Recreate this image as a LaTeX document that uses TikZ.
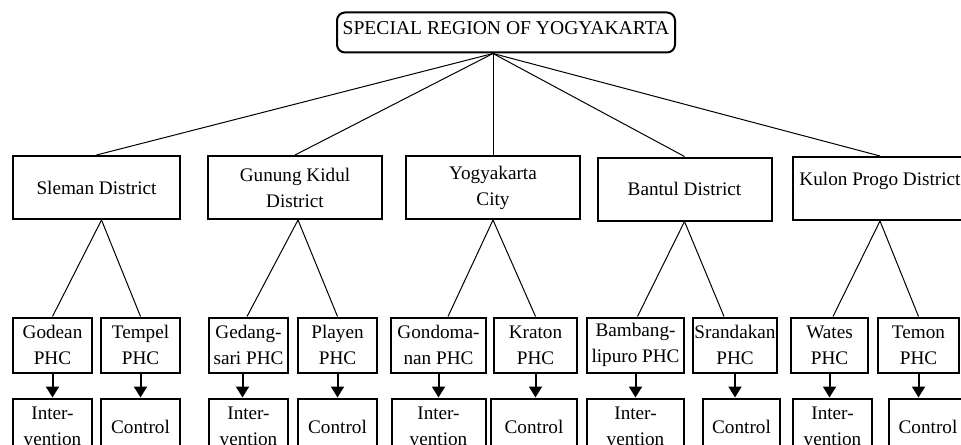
\documentclass[tikz,border=0pt]{standalone}
\usepackage{fontspec}
\setmainfont{Liberation Serif}
\usetikzlibrary{arrows.meta,positioning}

\begin{document}
\begin{tikzpicture}[
  x=0.5pt, y=-0.5pt,
  every node/.style={
    font=\fontsize{9.6}{13}\selectfont,
    align=center,
    inner sep=0pt
  },
  region/.style={
    draw,
    line width=1pt,
    rounded corners=4pt,
    minimum width=169pt,
    inner ysep=2.5pt,
    text height=8.5pt,
    text depth=6.5pt,
    font=\fontsize{9.8}{13}\selectfont
  },
  district/.style={draw,line width=1pt,minimum width=87pt,minimum height=31.5pt},
  clinic/.style={draw,line width=1pt,minimum width=39.5pt,minimum height=27.5pt},
  group/.style={draw,line width=1pt,minimum width=39.5pt,minimum height=28pt,below=12pt of #1},
  link/.style={line width=0.5pt},
  arrow/.style={-{Triangle[length=5.5pt,width=6.5pt]},line width=1pt}
]
  \clip (0,0) rectangle (961,444);

  \node[region] (diy) at (506,32.5) {SPECIAL REGION OF YOGYAKARTA};

  % districts
  \node[district,minimum width=83.5pt] (sleman) at (96.5,187.5) {Sleman District};
  \node[district] (gunungkidul) at (295,187.5) {Gunung Kidul\\District};
  \node[district] (yogya) at (493,187.5) {Yogyakarta\\City};
  \node[district] (bantul) at (684.5,189) {Bantul District};
  \node[district,text depth=10pt] (kulonprogo) at (880,188.5) {Kulon Progo District};
  \coordinate (hub) at (diy.south -| yogya.north);

  % health centres
  \node[clinic] (godean) at (52.5,345) {Godean\\PHC};
  \node[clinic] (tempel) at (140.5,345) {Tempel\\PHC};
  \node[clinic] (gedangsari) at (248.5,345) {Gedang-\\sari PHC};
  \node[clinic] (playen) at (337.5,345) {Playen\\PHC};
  \node[clinic,minimum width=47.5pt] (gondomanan) at (438.5,345) {Gondoma-\\nan PHC};
  \node[clinic,minimum width=41.5pt] (kraton) at (535.5,345) {Kraton\\PHC};
  \node[clinic,minimum width=48.5pt] (bambanglipuro) at (635.5,345) {Bambang-\\lipuro PHC};
  \node[clinic,minimum width=42pt] (srandakan) at (735,345) {Srandakan\\PHC};
  \node[clinic,minimum width=38.5pt] (wates) at (829.5,345) {Wates\\PHC};
  \node[clinic,minimum width=40.5pt] (temon) at (918.5,345) {Temon\\PHC};

  % study groups
  \node[group=godean] (godeanI) {Inter-\\vention};
  \node[group=tempel] (tempelC) {Control};
  \node[group=gedangsari] (gedangsariI) {Inter-\\vention};
  \node[group=playen] (playenC) {Control};
  \node[group=gondomanan,minimum width=47pt] (gondomananI) {Inter-\\vention};
  \node[group=kraton,minimum width=43pt,xshift=-0.75pt] (kratonC) {Control};
  \node[group=bambanglipuro,minimum width=48.5pt] (bambanglipuroI) {Inter-\\vention};
  \node[group=srandakan,minimum width=38.5pt,xshift=3.25pt] (srandakanC) {Control};
  \node[group=wates,xshift=1.5pt] (watesI) {Inter-\\vention};
  \node[group=temon,minimum width=39pt,xshift=4.75pt] (temonC) {Control};

  \draw[link] (hub) -- (sleman.north);
  \draw[link] (hub) -- (gunungkidul.north);
  \draw[link] (hub) -- (yogya.north);
  \draw[link] (hub) -- (bantul.north);
  \draw[link] (hub) -- (kulonprogo.north);

  \draw[link] ([xshift=2.5pt]sleman.south) -- (godean.north);
  \draw[link] ([xshift=2.5pt]sleman.south) -- (tempel.north);
  \draw[link] ([xshift=1.5pt]gunungkidul.south) -- ([xshift=-0.75pt]gedangsari.north);
  \draw[link] ([xshift=1.5pt]gunungkidul.south) -- (playen.north);
  \draw[link] (yogya.south) -- ([xshift=4.75pt]gondomanan.north);
  \draw[link] (yogya.south) -- (kraton.north);
  \draw[link] (bantul.south) -- ([xshift=1pt]bambanglipuro.north);
  \draw[link] (bantul.south) -- ([xshift=-5.5pt]srandakan.north);
  \draw[link] (kulonprogo.south) -- ([xshift=1.75pt]wates.north);
  \draw[link] (kulonprogo.south) -- (temon.north);

  \draw[arrow] (godean) -- (godean |- godeanI.north);
  \draw[arrow] (tempel) -- (tempel |- tempelC.north);
  \draw[arrow] ([xshift=-3pt]gedangsari.south) -- ([xshift=-3pt]gedangsari.south |- gedangsariI.north);
  \draw[arrow] (playen) -- (playen |- playenC.north);
  \draw[arrow] (gondomanan) -- (gondomanan |- gondomananI.north);
  \draw[arrow] (kraton) -- (kraton |- kratonC.north);
  \draw[arrow] (bambanglipuro) -- (bambanglipuro |- bambanglipuroI.north);
  \draw[arrow] (srandakan) -- (srandakan |- srandakanC.north);
  \draw[arrow] (wates) -- (wates |- watesI.north);
  \draw[arrow] (temon) -- (temon |- temonC.north);
\end{tikzpicture}
\end{document}
